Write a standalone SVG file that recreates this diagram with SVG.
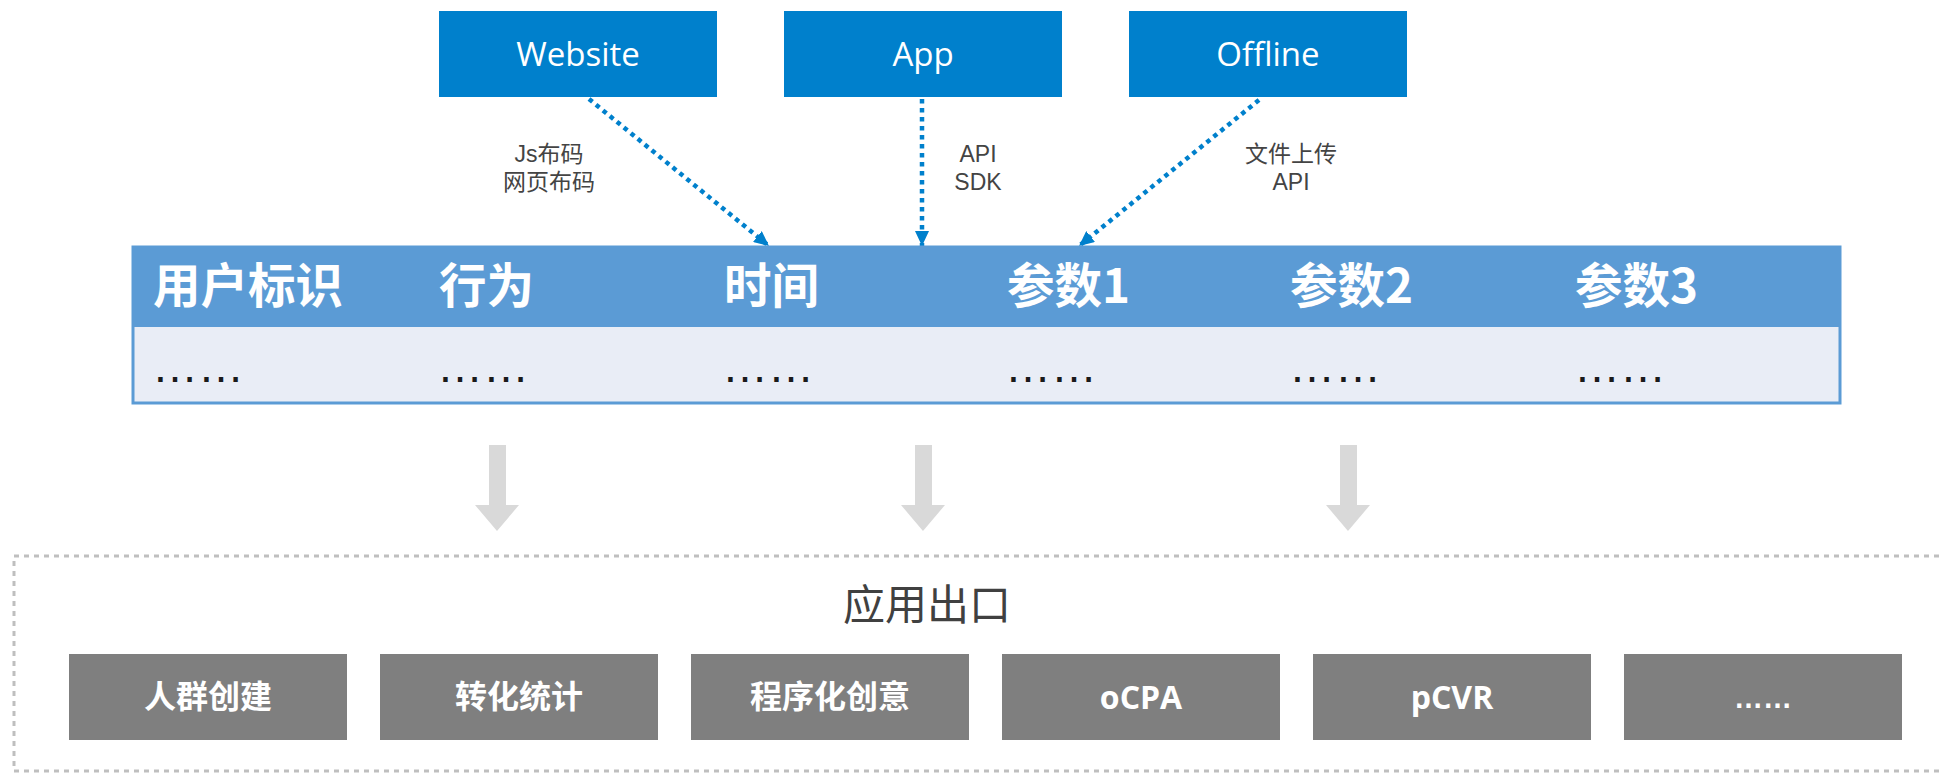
<svg xmlns="http://www.w3.org/2000/svg" width="1944" height="774" viewBox="0 0 1944 774">
<style>
.src{fill:#0080CC}
.srct{font-family:"Open Sans","Noto Sans CJK SC",sans-serif;font-size:33px;fill:#fff;text-anchor:middle}
.lbl{font-family:"Liberation Sans","Noto Sans CJK SC",sans-serif;font-size:23px;fill:#444;text-anchor:middle}
.conn{stroke:#0080CC;stroke-width:4.5;stroke-dasharray:4.5 4.5;fill:none}
.hdr{font-family:"Noto Sans CJK SC","Noto Sans",sans-serif;font-size:47.5px;font-weight:bold;fill:#fff}
.dots{font-family:"Liberation Sans",sans-serif;font-size:46px;fill:#1a1a1a}
.out{fill:#7F7F7F}
.outt{font-family:"Open Sans","Noto Sans CJK SC",sans-serif;font-size:32px;font-weight:bold;fill:#fff;text-anchor:middle}
.garrow{fill:#D9D9D9}
</style>
<defs>
<marker id="ah" markerUnits="userSpaceOnUse" markerWidth="16" markerHeight="14" refX="15" refY="7" orient="auto">
<path d="M0,0 L15,7 L0,14 z" fill="#0080CC"/>
</marker>
</defs>

<g id="connectors">
<line class="conn" x1="589" y1="99" x2="769" y2="246" marker-end="url(#ah)"/>
<line class="conn" x1="922" y1="99" x2="922" y2="246" marker-end="url(#ah)"/>
<line class="conn" x1="1259" y1="100" x2="1079" y2="246" marker-end="url(#ah)"/>
<text class="lbl" x="549" y="162">Js布码</text>
<text class="lbl" x="549" y="190">网页布码</text>
<text class="lbl" x="978" y="162">API</text>
<text class="lbl" x="978" y="190">SDK</text>
<text class="lbl" x="1291" y="162">文件上传</text>
<text class="lbl" x="1291" y="190">API</text>
</g>

<g id="website">
<rect class="src" x="439" y="11" width="278" height="86"/>
<text class="srct" x="578" y="66">Website</text>
</g>
<g id="app">
<rect class="src" x="784" y="11" width="278" height="86"/>
<text class="srct" x="923" y="66">App</text>
</g>
<g id="offline">
<rect class="src" x="1129" y="11" width="278" height="86"/>
<text class="srct" x="1268" y="66">Offline</text>
</g>

<g id="table">
<rect x="133" y="247" width="1707" height="156" fill="#E9EDF6" stroke="#5B9BD5" stroke-width="3"/>
<rect x="133" y="247" width="1707" height="80" fill="#5B9BD5"/>
<text class="hdr" x="153" y="303">用户标识</text>
<text class="hdr" x="439" y="303">行为</text>
<text class="hdr" x="724" y="303">时间</text>
<text class="hdr" x="1007" y="303">参数1</text>
<text class="hdr" x="1290" y="303">参数2</text>
<text class="hdr" x="1575" y="303">参数3</text>
<text class="dots" x="152" y="382">……</text>
<text class="dots" x="437" y="382">……</text>
<text class="dots" x="722" y="382">……</text>
<text class="dots" x="1005" y="382">……</text>
<text class="dots" x="1289" y="382">……</text>
<text class="dots" x="1574" y="382">……</text>
</g>

<g id="flow-arrows">
<path class="garrow" d="M489,445 H506 V505 H519 L497,531 L475,505 H489 Z"/>
<path class="garrow" d="M915,445 H932 V505 H945 L923,531 L901,505 H915 Z"/>
<path class="garrow" d="M1340,445 H1357 V505 H1370 L1348,531 L1326,505 H1340 Z"/>
</g>

<g id="outputs">
<rect x="14" y="556" width="1940" height="215" fill="none" stroke="#BFBFBF" stroke-width="3" stroke-dasharray="5 5"/>
<text x="927" y="620" font-family="Noto Sans CJK SC,sans-serif" font-size="42" fill="#404040" text-anchor="middle">应用出口</text>
<g id="out1"><rect class="out" x="69" y="654" width="278" height="86"/><text class="outt" x="208" y="708">人群创建</text></g>
<g id="out2"><rect class="out" x="380" y="654" width="278" height="86"/><text class="outt" x="519" y="708">转化统计</text></g>
<g id="out3"><rect class="out" x="691" y="654" width="278" height="86"/><text class="outt" x="830" y="708">程序化创意</text></g>
<g id="out4"><rect class="out" x="1002" y="654" width="278" height="86"/><text class="outt" x="1141" y="709">oCPA</text></g>
<g id="out5"><rect class="out" x="1313" y="654" width="278" height="86"/><text class="outt" x="1452" y="709">pCVR</text></g>
<g id="out6"><rect class="out" x="1624" y="654" width="278" height="86"/><text x="1763" y="708" font-family="Liberation Sans,sans-serif" font-size="29" font-weight="bold" fill="#fff" text-anchor="middle">……</text></g>
</g>
</svg>
